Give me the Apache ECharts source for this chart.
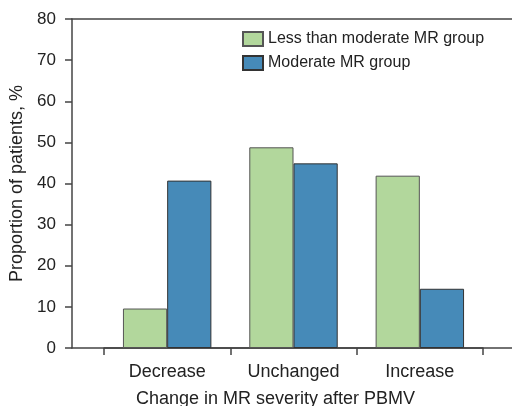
<!DOCTYPE html>
<html>
<head>
<meta charset="utf-8">
<script src="https://cdn.jsdelivr.net/npm/echarts@6/dist/echarts.min.js"></script>
<style>
  html, body { margin: 0; padding: 0; background: #fff; }
  #chart { width: 512px; height: 406px; }
</style>
</head>
<body>
<div id="chart"></div>
<script>
const categories = ["Decrease", "Unchanged", "Increase"];
const lessThanModerate = [9.6, 48.8, 41.9];
const moderate = [40.7, 44.9, 14.4];
const seriesNames = ["Less than moderate MR group", "Moderate MR group"];

const font = "Liberation Sans, Arial, Helvetica, sans-serif";
const lineColor = "#444";
const textColor = "#222";

const chart = echarts.init(document.getElementById("chart"));

chart.setOption({
  animation: false,
  textStyle: { fontFamily: font },
  legend: {
    orient: "vertical",
    left: 237,
    top: 26,
    icon: "rect",
    itemWidth: 20,
    itemHeight: 14,
    itemGap: 8,
    textStyle: { fontSize: 16, color: textColor, fontFamily: font },
    data: seriesNames
  },
  grid: [
    { left: 104, right: 29, top: 19, bottom: 58, outerBoundsMode: "none" },
    { left: 72, right: 0, top: 19, bottom: 58, outerBoundsMode: "none" }
  ],
  xAxis: [
    {
      type: "category",
      gridIndex: 0,
      data: categories,
      boundaryGap: true,
      axisLine: { show: true, lineStyle: { color: lineColor, width: 1.5 } },
      axisTick: { show: true, length: 7, alignWithLabel: false, lineStyle: { color: lineColor, width: 1.5 } },
      axisLabel: { fontSize: 18, color: textColor, margin: 15, fontFamily: font },
      name: "Change in MR severity after PBMV",
      nameLocation: "middle",
      nameGap: 42,
      nameTextStyle: { fontSize: 18, color: textColor, fontFamily: font, padding: [0, 36, 0, 0] }
    },
    {
      type: "value",
      gridIndex: 1,
      min: 0,
      max: 1,
      axisLine: { show: true, lineStyle: { color: lineColor, width: 1.5 } },
      axisTick: { show: false },
      axisLabel: { show: false },
      splitLine: { show: false }
    },
    {
      type: "value",
      gridIndex: 1,
      position: "top",
      min: 0,
      max: 1,
      axisLine: { show: true, lineStyle: { color: lineColor, width: 1.5 } },
      axisTick: { show: false },
      axisLabel: { show: false },
      splitLine: { show: false }
    }
  ],
  yAxis: [
    {
      type: "value",
      gridIndex: 0,
      min: 0,
      max: 80,
      show: false
    },
    {
      type: "value",
      gridIndex: 1,
      min: 0,
      max: 80,
      interval: 10,
      axisLine: { show: true, lineStyle: { color: lineColor, width: 1.5 } },
      axisTick: { show: true, length: 7, lineStyle: { color: lineColor, width: 1.5 } },
      axisLabel: { fontSize: 17, color: textColor, margin: 16, fontFamily: font },
      splitLine: { show: false },
      name: "Proportion of patients, %",
      nameLocation: "middle",
      nameGap: 43,
      nameTextStyle: { fontSize: 18, color: textColor, fontFamily: font }
    }
  ],
  series: [
    {
      name: seriesNames[0],
      type: "bar",
      xAxisIndex: 0,
      yAxisIndex: 0,
      data: lessThanModerate,
      barGap: "0%",
      barCategoryGap: "30%",
      itemStyle: { color: "#b2d79c", borderColor: "#555", borderWidth: 1 }
    },
    {
      name: seriesNames[1],
      type: "bar",
      xAxisIndex: 0,
      yAxisIndex: 0,
      data: moderate,
      barGap: "0%",
      barCategoryGap: "30%",
      itemStyle: { color: "#468ab8", borderColor: "#333", borderWidth: 1 }
    }
  ]
});
</script>
</body>
</html>
